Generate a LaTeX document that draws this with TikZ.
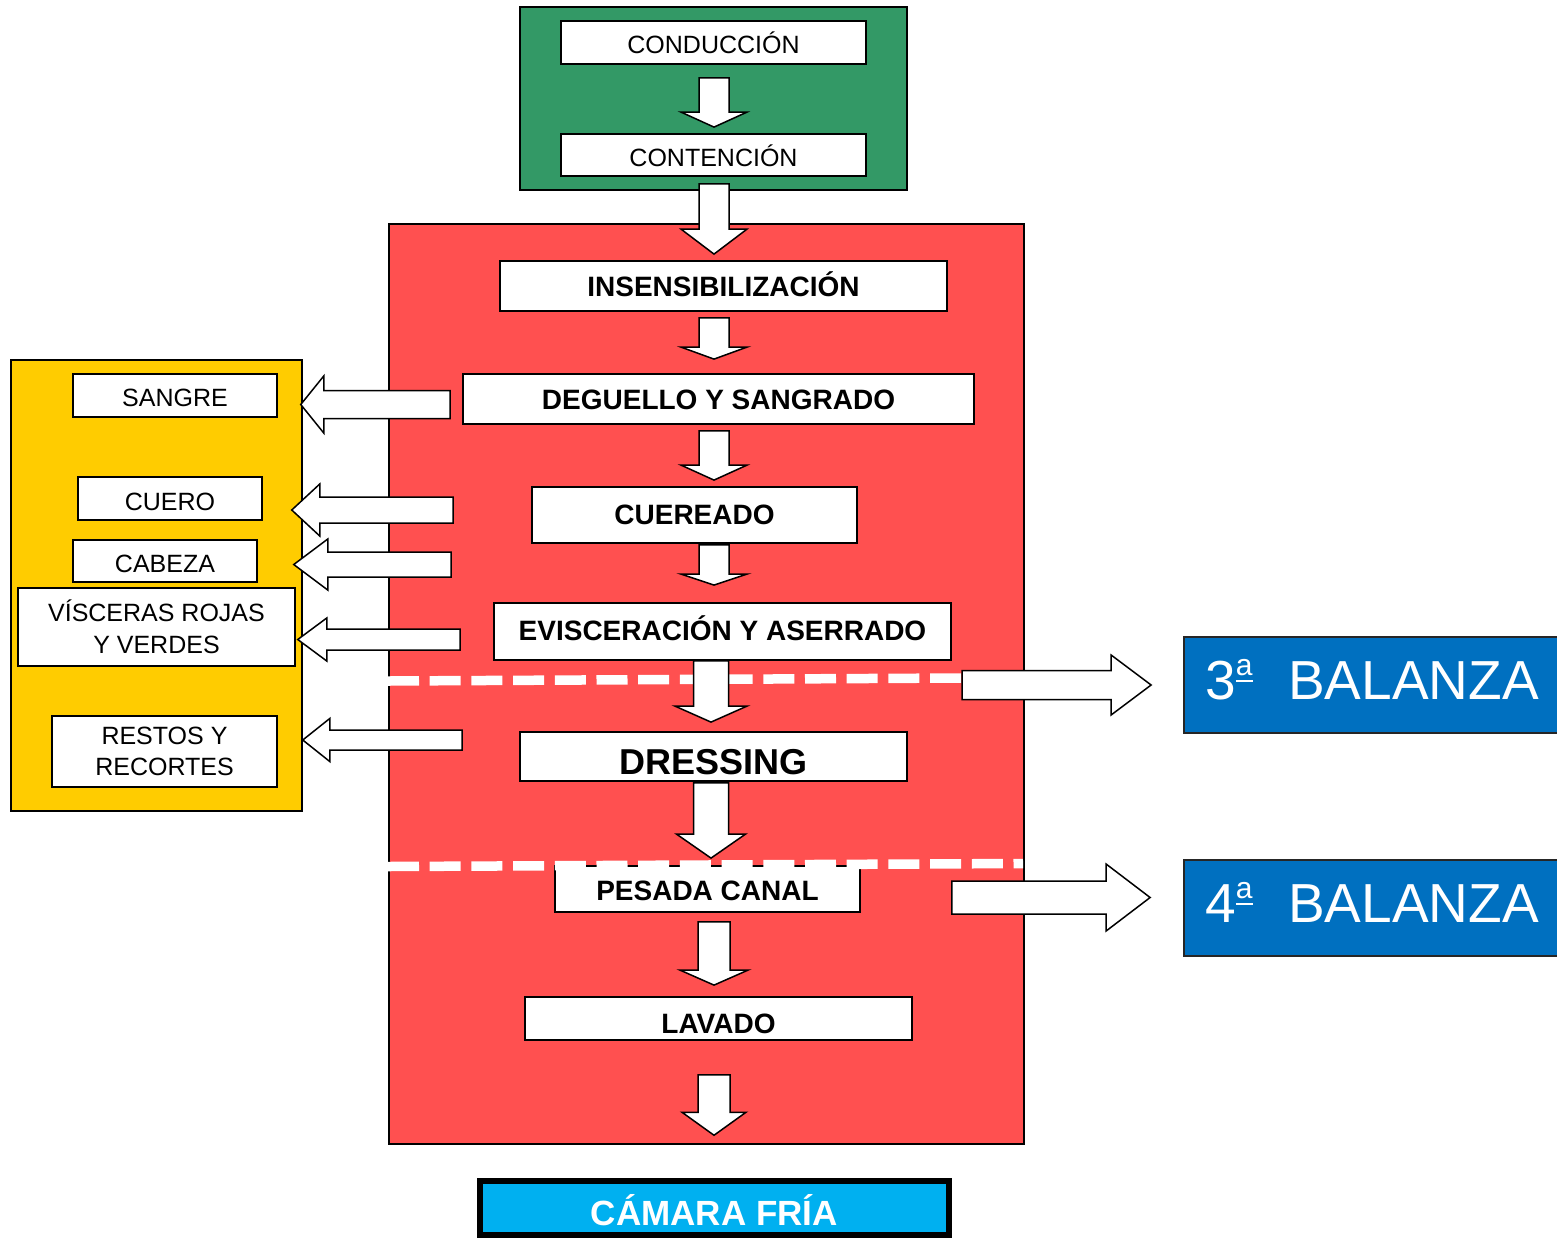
\documentclass[tikz,border=0pt]{standalone}
\usepackage{fontspec}
\setmainfont{Liberation Sans}
\usetikzlibrary{calc,positioning}
\definecolor{verde}{HTML}{339966}
\definecolor{rojo}{HTML}{FF5050}
\definecolor{amarillo}{HTML}{FFCC00}
\definecolor{azul}{HTML}{0070C0}
\definecolor{celeste}{HTML}{00B0F0}
\newcommand{\etapafont}{\fontsize{14}{16}\selectfont\bfseries}
\newcommand{\restofont}{\fontsize{12.5}{15.75}\selectfont}
\newcommand{\ordf}{\raisebox{12pt}{\fontsize{15}{15}\selectfont a\llap{\rule[-3.2pt]{8.3pt}{1pt}}}}
\tikzstyle{panel}=[draw,line width=0.75pt,inner sep=0pt]
\tikzstyle{etapa}=[draw,fill=white,line width=0.9pt,inner sep=0pt,font=\etapafont,text height=10.3pt,text depth=0pt]
\tikzstyle{resto}=[draw,fill=white,line width=0.9pt,inner sep=0pt,font=\restofont,text height=11pt,text depth=0pt]
\tikzstyle{restodos}=[draw,fill=white,line width=0.9pt,inner sep=0pt,font=\restofont,align=center]
\tikzstyle{balanza}=[draw=black!85,fill=azul,text=white,line width=0.9pt,inner sep=0pt,font=\fontsize{27.5}{30}\selectfont,text height=14.7pt,text depth=0pt,minimum width=188pt,minimum height=48pt]
\tikzstyle{corte}=[white,line width=4.75pt,dash pattern=on 15.5pt off 5.35pt]
\tikzset{
  asw/.store in=\asw, asw=7.5pt,
  ahw/.store in=\ahw, ahw=16.5pt,
  ahl/.store in=\ahl, ahl=8pt,
  blk/.style={draw=black,fill=white,line width=0.75pt,line join=miter},
  blkdown/.style={blk,to path={let \p1=(\tikztostart), \p2=(\tikztotarget) in
    (\x1-\asw,\y1) -- (\x1-\asw,\y2+\ahl) -- (\x1-\ahw,\y2+\ahl) -- (\x1,\y2)
    -- (\x1+\ahw,\y2+\ahl) -- (\x1+\asw,\y2+\ahl) -- (\x1+\asw,\y1) -- cycle}},
  blkleft/.style={blk,to path={let \p1=(\tikztostart), \p2=(\tikztotarget) in
    (\x1,\y1+\asw) -- (\x2+\ahl,\y1+\asw) -- (\x2+\ahl,\y1+\ahw) -- (\x2,\y1)
    -- (\x2+\ahl,\y1-\ahw) -- (\x2+\ahl,\y1-\asw) -- (\x1,\y1-\asw) -- cycle}},
  blkright/.style={blk,to path={let \p1=(\tikztostart), \p2=(\tikztotarget) in
    (\x1,\y1+\asw) -- (\x2-\ahl,\y1+\asw) -- (\x2-\ahl,\y1+\ahw) -- (\x2,\y1)
    -- (\x2-\ahl,\y1-\ahw) -- (\x2-\ahl,\y1-\asw) -- (\x1,\y1-\asw) -- cycle}}
}

\begin{document}
\begin{tikzpicture}[x=0.5pt,y=-0.5pt]
	\useasboundingbox (0,0) rectangle (1557,1237);
	\coordinate (spine) at (714,0);
	\coordinate (spineb) at (711,0);

	\node[panel,fill=rojo,minimum width=317.5pt,minimum height=460pt] (faena) at (706.5,684) {};
	\node[panel,fill=verde,minimum width=193.5pt,minimum height=91.5pt] (corral) at (713.5,98.5) {};
	\node[panel,fill=amarillo,minimum width=145.5pt,minimum height=225.5pt] (subprod) at (156.5,585.5) {};

	\node[resto,minimum width=152.5pt,minimum height=21.5pt] (conduccion) at (713.5,42.5) {CONDUCCIÓN};
	\node[resto,minimum width=152.5pt,minimum height=21pt] (contencion) at (713.5,155) {CONTENCIÓN};

	\node[etapa,minimum width=223.5pt,minimum height=25pt] (insens) at (723.5,286) {INSENSIBILIZACIÓN};
	\node[etapa,minimum width=255.5pt,minimum height=25pt] (deguello) at (718.5,399) {DEGUELLO Y SANGRADO};
	\node[etapa,minimum width=162.5pt,minimum height=28pt,text height=9pt] (cuereado) at (694.5,515) {CUEREADO};
	\node[etapa,minimum width=228.5pt,minimum height=28.5pt,text height=9pt] (evisc) at (722.5,631.5) {EVISCERACIÓN Y ASERRADO};
	\node[etapa,minimum width=193.5pt,minimum height=24.5pt,font=\fontsize{18}{20}\selectfont\bfseries,text height=18.4pt] (dressing) at (713.5,756.5) {DRESSING};
	\node[etapa,minimum width=152.5pt,minimum height=23pt,text height=11pt] (pesada) at (707.5,889) {PESADA CANAL};
	\node[etapa,minimum width=193.5pt,minimum height=21.5pt,text height=14.5pt] (lavado) at (718.5,1018.5) {LAVADO};

	\node[resto,minimum width=102pt,minimum height=21.5pt] (sangre) at (175,395.5) {SANGRE};
	\node[resto,minimum width=92pt,minimum height=21.5pt,text height=12pt] (cuero) at (170,498.5) {CUERO};
	\node[resto,minimum width=92pt,minimum height=21pt] (cabeza) at (165,561) {CABEZA};
	\node[restodos,minimum width=138.5pt,minimum height=39pt] (visceras) at (156.5,627) {VÍSCERAS ROJAS\\Y VERDES};
	\node[restodos,minimum width=112.5pt,minimum height=35.5pt] (restos) at (164.5,751.5) {RESTOS Y\\RECORTES};

	\node[balanza] (bal3) at (1372,685) {3\ordf\hspace{17.8pt}BALANZA};
	\node[balanza] (bal4) at (1372,908) {4\ordf\hspace{17.8pt}BALANZA};

	\node[draw=black,line width=3pt,fill=celeste,text=white,inner sep=0pt,font=\fontsize{17.5}{20}\selectfont\bfseries,text height=17pt,text depth=0pt,minimum width=234.25pt,minimum height=26.75pt] (camara) at (714.25,1208) {CÁMARA FRÍA};

	\coordinate (corte3a) at (388,681);
	\coordinate (corte3b) at (962,678);
	\coordinate (corte4a) at (388,866.5);
	\coordinate (corte4b) at (1023,863.5);
	\draw[corte] (corte3a) -- (corte3b);
	\draw[corte] (corte4a) -- (corte4b);

	\draw[blkdown,ahl=7.5pt] ($(conduccion.south -| spine)+(0,13)$) to ($(contencion.north -| spine)+(0,-6)$);
	\draw[blkdown,ahl=12.5pt] ($(contencion.south -| spine)+(0,7)$) to ($(insens.north -| spine)+(0,-6)$);
	\draw[blkdown,ahl=6pt] ($(insens.south -| spine)+(0,6)$) to ($(deguello.north -| spine)+(0,-14)$);
	\draw[blkdown,ahl=7.5pt] ($(deguello.south -| spine)+(0,6)$) to ($(cuereado.north -| spine)+(0,-6)$);
	\draw[blkdown,ahl=5.5pt] ($(cuereado.south -| spine)+(0,1)$) to ($(evisc.north -| spine)+(0,-17)$);
	\draw[blkdown,ahl=8pt,asw=8.75pt,ahw=18pt] (evisc.south -| spineb) to ($(dressing.north -| spineb)+(0,-9)$);
	\draw[blkdown,ahl=12pt,asw=8.75pt,ahw=17.25pt] ($(dressing.south -| spineb)+(0,1)$) to ($(pesada.north -| spineb)+(0,-7)$);
	\draw[blkdown,ahl=7.5pt,asw=8pt,ahw=17pt] ($(pesada.south -| spine)+(0,9)$) to ($(lavado.north -| spine)+(0,-11)$);
	\draw[blkdown,ahl=11.5pt,asw=8pt,ahw=16pt] ($(lavado.south -| spine)+(0,34)$) to ($(camara.north -| spine)+(0,-43)$);

	\draw[blkleft,asw=7pt,ahw=14.25pt,ahl=11.5pt] ($(deguello.west)+(-12,5.5)$) to ($(sangre.east -| subprod.east)+(-2,0)$);
	\draw[blkleft,asw=6.5pt,ahw=13pt,ahl=14pt] ($(cuereado.west)+(-78,-5)$) to ($(cuero.east -| subprod.east)+(-11,0)$);
	\draw[blkleft,asw=6.25pt,ahw=12.75pt,ahl=17pt] ($(cuereado.west)+(-80,49.5)$) to ($(cabeza.east -| subprod.east)+(-9,0)$);
	\draw[blkleft,asw=5.25pt,ahw=10.75pt,ahl=14.5pt] ($(evisc.west)+(-33,8)$) to ($(visceras.east -| subprod.east)+(-5,0)$);
	\draw[blkleft,asw=5pt,ahw=10.75pt,ahl=13.5pt] ($(dressing.west)+(-57,-16.5)$) to (restos.east -| subprod.east);

	\draw[blkright,asw=7.25pt,ahw=15pt,ahl=20pt] (corte3b |- bal3.west) to ($(bal3.west)+(-32,0)$);
	\draw[blkright,asw=8.25pt,ahw=16.75pt,ahl=22pt] ($(pesada.east)+(91,8.5)$) to ($(bal4.west)+(-33,0)$);
\end{tikzpicture}
\end{document}
